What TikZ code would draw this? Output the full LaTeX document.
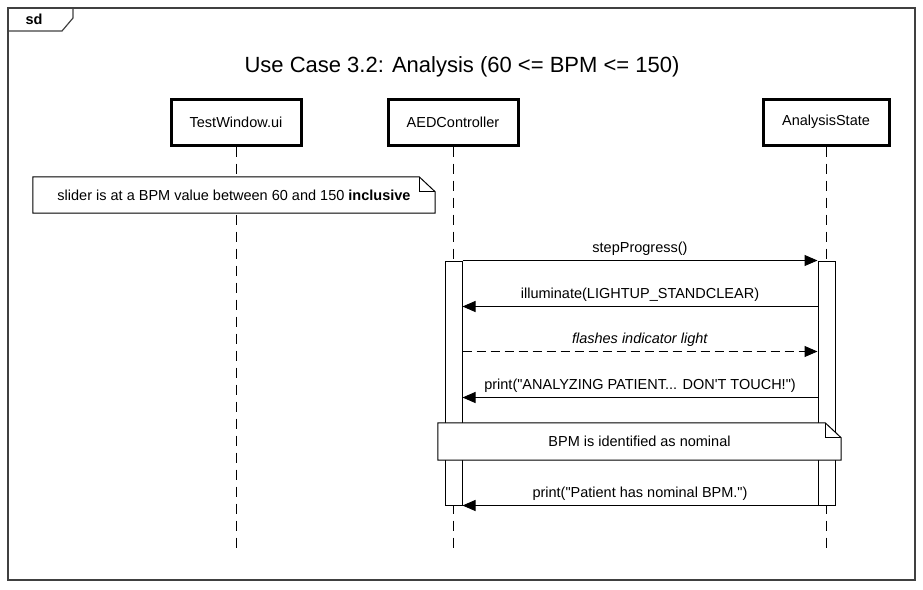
\documentclass[tikz,border=0pt]{standalone}
\usepackage{fontspec}
\setmainfont{Liberation Sans}[Ligatures=TeXOff]
\usetikzlibrary{arrows.meta,positioning,calc}

\begin{document}
\begin{tikzpicture}[x=1pt,y=-1pt,
	every node/.style={font=\fontsize{14.5}{17}\selectfont},
	head/.style={draw,line width=3pt,minimum width=130pt,minimum height=46pt,inner sep=0pt},
	lifeline/.style={line width=1pt,dash pattern=on 10pt off 7pt},
	actbar/.style={draw,fill=white,line width=1pt,minimum width=17pt,minimum height=244pt,inner sep=0pt},
	msg/.style={line width=1pt,-{Triangle[length=13pt,width=11pt]}},
	reply/.style={msg,dash pattern=on 9pt off 5pt},
	note/.style={minimum height=37pt,inner sep=0pt},
	notebox/.style={draw,fill=white,line width=1pt,line join=miter}]
	\useasboundingbox (0,0) rectangle (923,589);
	
	% frame
	\draw[black!75,line width=1.5pt] (8,8) rectangle (915,580);
	\draw[black!75,line width=1.2pt] (8,31) -- (62,31) -- (73,18) -- (73,8);
	\node[font=\fontsize{14.5}{17}\selectfont\bfseries] (sd) at (34,19) {sd};
	
	\node[font=\fontsize{22}{26}\selectfont] (title) at (462,67) {Use Case 3.2: Analysis (60 <= BPM <= 150)};
	
	% lifelines
	\node[head] (tw) at (236,122) {TestWindow.ui};
	\node[head] (aed) at (453,122) {AEDController};
	\node[head,minimum width=126pt] (as) at (826,122) {AnalysisState};
	\coordinate (bottom) at (0,553);
	
	\draw[lifeline] (tw.south) -- (tw |- bottom);
	\draw[lifeline] (aed.south) -- (aed |- bottom);
	\draw[lifeline] (as.south) -- (as |- bottom);
	
	% note 1
	\node[note,minimum width=402pt,minimum height=36pt] (n1) at (234,195) {};
	\draw[notebox] (n1.north west) -- ([xshift=-16pt]n1.north east) -- ([yshift=-15pt]n1.north east) -- (n1.south east) -- (n1.south west) -- cycle;
	\draw[line width=1pt] ([xshift=-16pt]n1.north east) |- ([yshift=-15pt]n1.north east);
	\node (n1t) at (n1) {slider is at a BPM value between 60 and 150 \textbf{inclusive}};
	
	% activations
	\node[actbar] (aedact) at (453.5,383) {};
	\node[actbar] (asact) at (826.5,383) {};
	
	% messages
	\draw[msg] (aedact.north east) -- (asact.north west) node[midway,yshift=12pt] (m1) {stepProgress()};
	\draw[msg] ([yshift=-46pt]asact.north west) -- ([yshift=-46pt]aedact.north east) node[midway,yshift=12pt] (m2) {illuminate(LIGHTUP\_STANDCLEAR)};
	\draw[reply] ([yshift=-91pt]aedact.north east) -- ([yshift=-91pt]asact.north west) node[midway,yshift=12pt] (m3) {\textit{flashes indicator light}};
	\draw[msg] ([yshift=-137pt]asact.north west) -- ([yshift=-137pt]aedact.north east) node[midway,yshift=12pt] (m4) {print("ANALYZING PATIENT... DON'T TOUCH!")};
	
	% note 2
	\node[note,minimum width=403pt] (n2) at (639.5,441.5) {};
	\draw[notebox] (n2.north west) -- ([xshift=-16pt]n2.north east) -- ([yshift=-15pt]n2.north east) -- (n2.south east) -- (n2.south west) -- cycle;
	\draw[line width=1pt] ([xshift=-16pt]n2.north east) |- ([yshift=-15pt]n2.north east);
	\node (n2t) at (n2) {BPM is identified as nominal};
	
	\draw[msg] (asact.south west) -- (aedact.south east) node[midway,yshift=12pt] (m5) {print("Patient has nominal BPM.")};
\end{tikzpicture}
\end{document}
